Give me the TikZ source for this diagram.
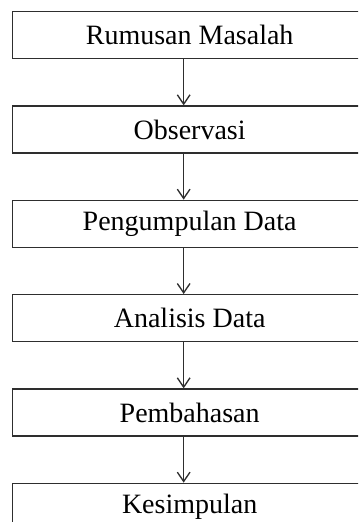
\documentclass[tikz,border=0pt]{standalone}
\usepackage{fontspec}
\setmainfont{Liberation Serif}
\usepackage{tikz}
\usetikzlibrary{
  arrows.meta,
  positioning,
  calc
}
\definecolor{flLine}{HTML}{2E2E2E}
\definecolor{flText}{HTML}{000000}
\tikzset{
  flnode/.style={
    draw=flLine, line width=1pt, minimum height=35.25pt, minimum width=265.5pt,
    font=\fontsize{21}{25}\selectfont, text=flText, inner sep=0pt, align=center
  },
  flstep/.style={flnode, fill=white},
  flow/.style={-{Straight Barb[length=7pt, width=9.5pt, line width=1pt]}, line width=1pt, flLine}
}

\begin{document}
\begin{tikzpicture}[x=0.75pt, y=-0.75pt, node distance=34.5pt]
  \clip (0,0) rectangle (358,522);
  \useasboundingbox (0,0) rectangle (358,522);
  \node[flstep, anchor=north west] (a) at (12,11) {Rumusan Masalah};
  \node[flstep, below=of a] (b) {Observasi};
  \node[flstep, below=of b] (c) {Pengumpulan Data};
  \node[flstep, below=of c] (d) {Analisis Data};
  \node[flstep, below=of d] (e) {Pembahasan};
  \node[flstep, below=of e] (f) {Kesimpulan};
  \draw[flow] ([xshift=-4.5pt]a.south) -- ([xshift=-4.5pt]b.north);
  \draw[flow] ([xshift=-4.5pt]b.south) -- ([xshift=-4.5pt]c.north);
  \draw[flow] ([xshift=-4.5pt]c.south) -- ([xshift=-4.5pt]d.north);
  \draw[flow] ([xshift=-4.5pt]d.south) -- ([xshift=-4.5pt]e.north);
  \draw[flow] ([xshift=-4.5pt]e.south) -- ([xshift=-4.5pt]f.north);
\end{tikzpicture}
\end{document}
